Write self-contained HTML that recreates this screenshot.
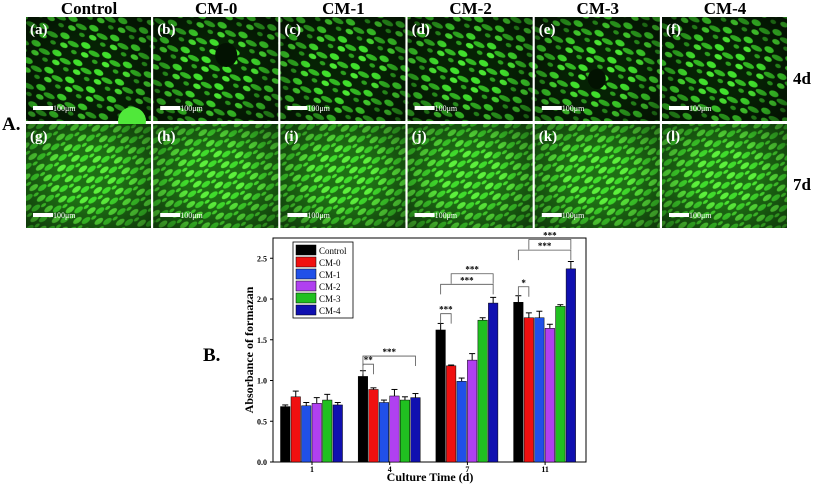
<!DOCTYPE html>
<html><head><meta charset="utf-8"><style>
body{margin:0;background:#fff;width:813px;height:484px;overflow:hidden;font-family:"Liberation Serif",serif}
</style></head><body>
<svg width="813" height="484" viewBox="0 0 813 484" style="position:absolute;left:0;top:0">
<defs>
<pattern id="cells" width="23" height="19" patternUnits="userSpaceOnUse" patternTransform="rotate(25)">
<rect width="23" height="19" fill="#062204"/>
<ellipse cx="5" cy="5" rx="5" ry="3" fill="#40e02c"/>
<ellipse cx="16" cy="9" rx="6" ry="2.5" fill="#32b822"/>
<ellipse cx="8" cy="14" rx="4" ry="2.5" fill="#4ae832"/>
<ellipse cx="20" cy="16" rx="3" ry="2" fill="#2ca01e"/>
</pattern>
<pattern id="cells2" width="17" height="13" patternUnits="userSpaceOnUse" patternTransform="rotate(-35)">
<rect width="17" height="13" fill="#1e7014"/>
<ellipse cx="5" cy="4" rx="5" ry="2.5" fill="#5cf03c"/>
<ellipse cx="12" cy="9" rx="5" ry="2.5" fill="#40dc2c"/>
<ellipse cx="3" cy="11" rx="3" ry="1.5" fill="#4ae430"/>
</pattern>
<radialGradient id="dark" cx="0.5" cy="0.5" r="0.7"><stop offset="0.35" stop-color="#000" stop-opacity="0"/><stop offset="1" stop-color="#000" stop-opacity="0.5"/></radialGradient>
</defs>
<g id="panels"></g>
<g id="chart"></g>
</svg>
<script>
const NS="http://www.w3.org/2000/svg";
function mk(tag,attrs,parent,txt){const e=document.createElementNS(NS,tag);for(const k in attrs)e.setAttribute(k,attrs[k]);if(txt!==undefined)e.textContent=txt;parent.appendChild(e);return e;}
const P=document.getElementById('panels');
const cols=["Control","CM-0","CM-1","CM-2","CM-3","CM-4"];
const letters="abcdefghijkl";
for(let c=0;c<6;c++){
  const x=26+c*127.2;
  const h=mk('text',{x:x+63,y:14,'text-anchor':'middle','font-size':17,'font-weight':'bold'},P,cols[c]);
  
  
  for(let r=0;r<2;r++){
    const y=r?124:17;
    const g=mk('g',{},P);
    
    
    mk('rect',{x:x,y:y,width:125,height:104,fill:r?'url(#cells2)':'url(#cells)'},g);
    mk('rect',{x:x,y:y,width:125,height:104,fill:'url(#dark)'},g);
    if(r===0&&c===1) mk('ellipse',{cx:x+73,cy:y+38,rx:11,ry:12,fill:'#031202'},g);
    if(r===0&&c===4) mk('ellipse',{cx:x+62,cy:y+62,rx:9,ry:10,fill:'#031202'},g);
    if(r===0&&c===0) mk('circle',{cx:x+106,cy:y+104,r:14,fill:'#50e83a'},g);
    mk('text',{x:x+4,y:y+17,'font-size':15,'font-weight':'bold',fill:'#fff'},g,'('+letters[r*6+c]+')');
    mk('rect',{x:x+7,y:y+89,width:20,height:4,fill:'#fff'},g);
    mk('text',{x:x+27,y:y+94,'font-size':8,fill:'#fff'},g,'100μm');
  }
}
[["4d",84],["7d",190]].forEach(([t,y])=>{const e=mk('text',{x:793,y:y,'font-size':17,'font-weight':'bold'},P,t);});
const la=mk('text',{x:2,y:130,'font-size':19,'font-weight':'bold'},P,'A.');
const lb=mk('text',{x:203,y:361,'font-size':19,'font-weight':'bold'},P,'B.');

// chart data
const categories=["1","4","7","11"];
const seriesNames=["Control","CM-0","CM-1","CM-2","CM-3","CM-4"];
const colors=["#000","#f01010","#2050e8","#b040f0","#20c020","#1010b0"];
const values=[[0.68,1.05,1.62,1.96],[0.80,0.89,1.18,1.77],[0.69,0.73,0.99,1.77],[0.72,0.81,1.25,1.64],[0.76,0.76,1.74,1.91],[0.70,0.79,1.95,2.37]];
const errors=[[0.02,0.07,0.08,0.08],[0.07,0.02,0.01,0.06],[0.04,0.03,0.04,0.08],[0.07,0.08,0.08,0.05],[0.07,0.04,0.03,0.02],[0.03,0.05,0.07,0.09]];
const yTicks=[0,0.5,1.0,1.5,2.0,2.5];
const C=document.getElementById('chart');
const L=273,R=586,T=238,B=462;
const yS=v=>B-v*81.5;
const xC=i=>312+i*77.7;
const bw=10.5;
const xB=(i,s)=>xC(i)+(s-2.5)*bw-bw/2;
mk('rect',{x:L,y:T,width:R-L,height:B-T,fill:'none',stroke:'#000','stroke-width':1},C);
yTicks.forEach(t=>{mk('line',{x1:L-3,x2:L,y1:yS(t),y2:yS(t),stroke:'#000'},C);
 const e=mk('text',{x:L-6,y:yS(t)+3,'text-anchor':'end','font-size':8,'font-weight':'bold'},C,t.toFixed(1));
 });
categories.forEach((c,i)=>{mk('line',{x1:xC(i),x2:xC(i),y1:B,y2:B+3,stroke:'#000'},C);
 const e=mk('text',{x:xC(i),y:B+10,'text-anchor':'middle','font-size':8,'font-weight':'bold'},C,c);
 });
const xt=mk('text',{x:430,y:481,'text-anchor':'middle','font-size':12,'font-weight':'bold'},C,'Culture Time (d)');

const yt=mk('text',{x:0,y:0,transform:'translate(253,350) rotate(-90)','text-anchor':'middle','font-size':12,'font-weight':'bold'},C,'Absorbance of formazan');

seriesNames.forEach((n,s)=>{categories.forEach((c,i)=>{
  const v=values[s][i],e=errors[s][i],x=xB(i,s);
  const b=mk('rect',{x:x,y:yS(v),width:bw-1,height:B-yS(v),fill:colors[s],stroke:'#000','stroke-width':0.5},C);
  
  
  const cx=x+(bw-1)/2;
  mk('line',{x1:cx,x2:cx,y1:yS(v),y2:yS(v+e),stroke:'#000'},C);
  mk('line',{x1:cx-3,x2:cx+3,y1:yS(v+e),y2:yS(v+e),stroke:'#000'},C);
});});
// significance brackets: [cat, s1, s2, level, label]
const sig=[[1,0,1,1.20,'**'],[1,0,5,1.30,'***'],[2,0,1,1.82,'***'],[2,0,5,2.18,'***'],[2,1,5,2.31,'***'],[3,0,1,2.15,'*'],[3,0,5,2.60,'***'],[3,1,5,2.73,'***']];
sig.forEach(([i,a,b,lv,lab])=>{
  const xa=xB(i,a)+(bw-1)/2,xb=xB(i,b)+(bw-1)/2,y=yS(lv);
  const g=mk('g',{},C);
  mk('polyline',{points:`${xa},${y+10} ${xa},${y} ${xb},${y} ${xb},${y+10}`,fill:'none',stroke:'#555','stroke-width':0.8},g);
  mk('text',{x:(xa+xb)/2,y:y-1,'text-anchor':'middle','font-size':9,'font-weight':'bold'},g,lab);
});
// legend
const lg=mk('g',{},C);
mk('rect',{x:293,y:242,width:60,height:76,fill:'#fff',stroke:'#000','stroke-width':0.8},lg);
seriesNames.forEach((n,s)=>{const g=mk('g',{},lg);
 mk('rect',{x:296,y:245+s*12,width:20,height:10,fill:colors[s],stroke:'#000','stroke-width':0.5},g);
 mk('text',{x:319,y:254+s*12,'font-size':9},g,n);});
</script>
</body></html>
